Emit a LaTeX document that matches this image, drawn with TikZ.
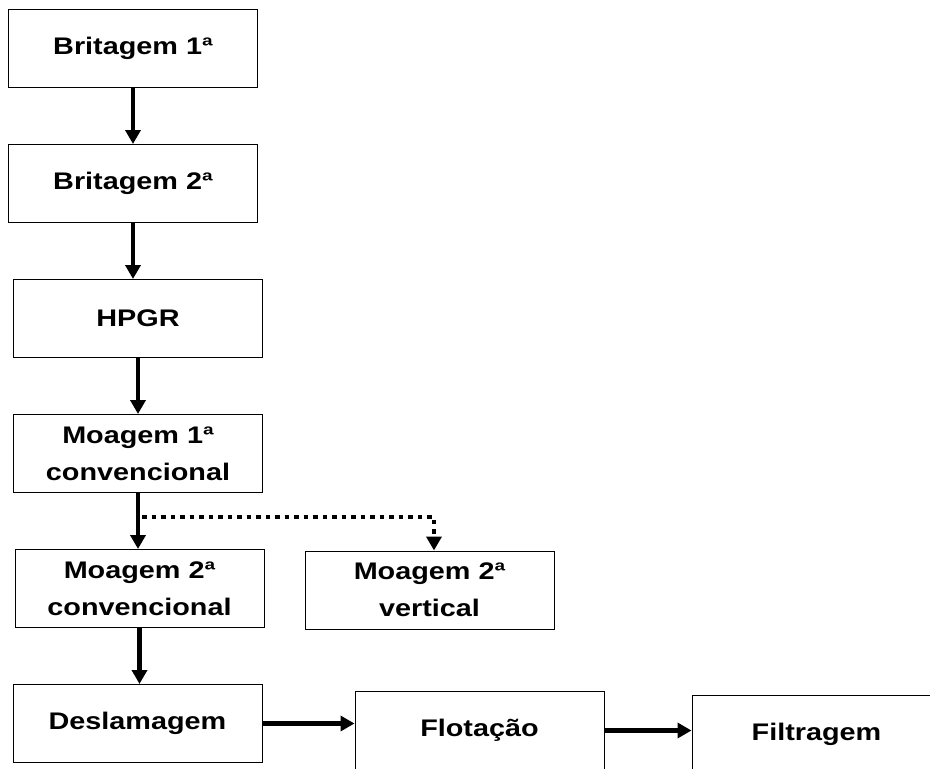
\documentclass[tikz,border=0pt]{standalone}
\usepackage{fontspec}
\setmainfont{Liberation Sans}[FakeStretch=1.2]
\usetikzlibrary{arrows.meta}

\begin{document}
\begin{tikzpicture}[->,>={Triangle[length=14pt,width=15pt]},x=1pt,y=1pt,node distance=135pt,
    etapa/.style={draw,line width=1pt,minimum width=249pt,minimum height=78pt,align=center,inner sep=2pt,
      font=\bfseries\fontsize{24}{37}\selectfont},
    fluxo/.style={line width=4.5pt},
    pontilhado/.style={line width=4pt,dash pattern=on 4.5pt off 5pt}]
    \useasboundingbox (0,0) rectangle (930,-769);
    \node[etapa] (b1) at (133,-48.5) {Britagem 1ª};
    \node[etapa] (b2) [below of=b1] {Britagem 2ª};
    \node[etapa] (hpgr) [below of=b2,xshift=5pt] {HPGR};
    \node[etapa] (m1) [below of=hpgr] {Moagem 1ª\\convencional};
    \node[etapa] (m2c) [below of=m1,xshift=1.5pt] {Moagem 2ª\\convencional};
    \node[etapa] (m2v) [node distance=290pt,right of=m2c,yshift=-1.5pt] {Moagem 2ª\\vertical};
    \node[etapa] (desl) [below of=m2c,xshift=-2pt] {Deslamagem};
    \node[etapa] (flot) [node distance=342pt,right of=desl,yshift=-7pt] {Flotação};
    \node[etapa] (filt) [node distance=337pt,right of=flot,yshift=-4pt] {Filtragem};
    \coordinate (ramo) at ([xshift=4pt,yshift=-24pt]m1.south);

    \path[fluxo] (b1) edge (b1 |- b2.north);
    \path[fluxo] (b2) edge (b2 |- hpgr.north);
    \path[fluxo] (hpgr) edge (hpgr |- m1.north);
    \path[fluxo] (m1) edge (m1 |- m2c.north);
    \path[fluxo] (m2c) edge (m2c |- desl.north);
    \path[fluxo] (desl) edge (desl -| flot.west);
    \path[fluxo] (flot) edge (flot -| filt.west);
    \draw[pontilhado] (ramo) -| ([xshift=4.5pt]m2v.north);
  \end{tikzpicture}
\end{document}
